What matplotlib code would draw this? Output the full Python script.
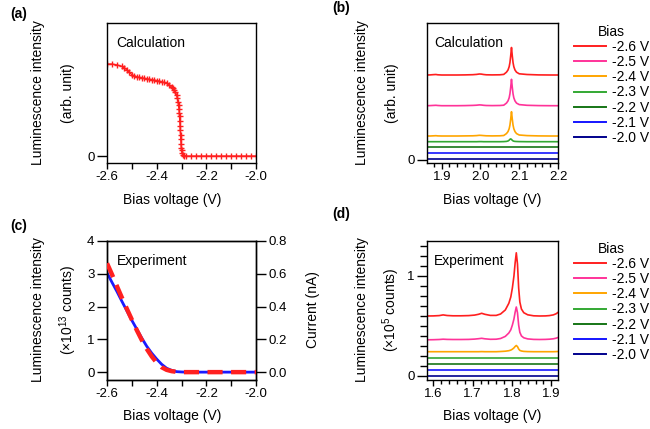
import matplotlib
matplotlib.use('Agg')
import matplotlib.pyplot as plt
from matplotlib.ticker import MultipleLocator, FixedLocator, FormatStrFormatter

plt.rcParams['font.family'] = ['Liberation Sans', 'DejaVu Sans']
plt.rcParams['axes.unicode_minus'] = False
plt.rcParams['mathtext.fontset'] = 'custom'
plt.rcParams['mathtext.rm'] = 'Liberation Sans'
plt.rcParams['mathtext.it'] = 'Liberation Sans:italic'

# ---------------- data ----------------
# (a) calculated luminescence vs bias
bias_a = [-2.60, -2.58, -2.56, -2.54, -2.53, -2.52, -2.51, -2.50, -2.49, -2.48,
          -2.47, -2.46, -2.45, -2.44, -2.43, -2.42, -2.41, -2.40, -2.39, -2.38,
          -2.37, -2.36, -2.35, -2.34, -2.335, -2.33, -2.325, -2.32, -2.317, -2.314,
          -2.312, -2.310, -2.309, -2.308, -2.307, -2.306, -2.305, -2.304, -2.303, -2.302,
          -2.301, -2.300, -2.298, -2.295, -2.29, -2.28, -2.26, -2.24, -2.22, -2.20,
          -2.18, -2.16, -2.14, -2.12, -2.10, -2.08, -2.06, -2.04, -2.02, -2.00]
lum_a = [1.000, 1.000, 0.990, 0.975, 0.960, 0.935, 0.910, 0.885, 0.870, 0.860,
         0.855, 0.850, 0.845, 0.840, 0.835, 0.830, 0.825, 0.820, 0.815, 0.805,
         0.800, 0.790, 0.775, 0.750, 0.735, 0.715, 0.695, 0.665, 0.630, 0.590,
         0.550, 0.510, 0.470, 0.430, 0.380, 0.330, 0.280, 0.230, 0.180, 0.130,
         0.090, 0.060, 0.030, 0.010, 0.000, 0.000, 0.000, 0.000, 0.000, 0.000,
         0.000, 0.000, 0.000, 0.000, 0.000, 0.000, 0.000, 0.000, 0.000, 0.000]

# (b) calculated spectra
bias_labels = ['-2.6 V', '-2.5 V', '-2.4 V', '-2.3 V', '-2.2 V', '-2.1 V', '-2.0 V']
colors = ['#ff1f1f', '#ff3399', '#ffa500', '#33a833', '#167516', '#1515ff', '#00008c']

energy_b = [1.862, 1.870, 1.880, 1.885, 1.890, 1.900, 1.920, 1.940, 1.960, 1.980,
            1.990, 1.997, 2.002, 2.008, 2.015, 2.030, 2.050, 2.060, 2.067, 2.071,
            2.074, 2.076, 2.078, 2.080, 2.082, 2.084, 2.086, 2.089, 2.093, 2.100,
            2.120, 2.150, 2.180, 2.200]
spec_b_26 = [0.850, 0.851, 0.854, 0.855, 0.852, 0.850, 0.850, 0.850, 0.851, 0.853,
             0.856, 0.860, 0.859, 0.855, 0.852, 0.851, 0.852, 0.856, 0.878, 0.900,
             0.933, 0.974, 1.043, 1.125, 1.043, 0.974, 0.933, 0.900, 0.878, 0.862,
             0.855, 0.851, 0.850, 0.850]
spec_b_25 = [0.543, 0.544, 0.546, 0.547, 0.545, 0.543, 0.543, 0.543, 0.544, 0.546,
             0.548, 0.551, 0.550, 0.547, 0.545, 0.544, 0.545, 0.548, 0.569, 0.591,
             0.622, 0.662, 0.728, 0.807, 0.728, 0.662, 0.622, 0.591, 0.569, 0.554,
             0.547, 0.544, 0.543, 0.543]
spec_b_24 = [0.240, 0.240, 0.242, 0.243, 0.241, 0.240, 0.240, 0.240, 0.241, 0.242,
             0.244, 0.247, 0.246, 0.244, 0.242, 0.241, 0.242, 0.245, 0.264, 0.284,
             0.313, 0.349, 0.410, 0.483, 0.410, 0.349, 0.313, 0.284, 0.264, 0.250,
             0.244, 0.241, 0.240, 0.240]
spec_b_23 = [0.183, 0.183, 0.183, 0.183, 0.183, 0.183, 0.183, 0.183, 0.183, 0.183,
             0.183, 0.184, 0.184, 0.183, 0.183, 0.183, 0.183, 0.184, 0.186, 0.190,
             0.198, 0.207, 0.211, 0.206, 0.197, 0.191, 0.188, 0.186, 0.185, 0.184,
             0.183, 0.183, 0.183, 0.183]
level_b_22 = [0.127, 0.127]
level_b_21 = [0.067, 0.067]
level_b_20 = [0.010, 0.010]
ends_b = [1.862, 2.200]

# (c) experiment: luminescence (x1e13 counts) and current (nA) vs bias
bias_c = [-2.60, -2.58, -2.56, -2.54, -2.52, -2.50, -2.48, -2.46, -2.44, -2.42,
          -2.40, -2.38, -2.36, -2.34, -2.32, -2.30, -2.28, -2.25, -2.20, -2.15,
          -2.10, -2.05, -2.00]
lum_c = [3.32, 2.98, 2.62, 2.27, 1.93, 1.60, 1.28, 0.98, 0.71, 0.48,
         0.29, 0.15, 0.07, 0.03, 0.01, 0.00, 0.00, 0.00, 0.00, 0.00,
         0.00, 0.00, 0.00]
current_c = [0.606, 0.548, 0.492, 0.432, 0.374, 0.316, 0.262, 0.208, 0.158, 0.116,
             0.080, 0.048, 0.024, 0.011, 0.003, 0.001, 0.000, 0.000, 0.000, 0.000,
             0.000, 0.000, 0.000]

# (d) experimental spectra (x1e5 counts)
energy_d = [1.584, 1.600, 1.615, 1.625, 1.635, 1.650, 1.670, 1.690, 1.705, 1.715,
            1.723, 1.731, 1.745, 1.760, 1.771, 1.783, 1.792, 1.797, 1.801, 1.805,
            1.808, 1.811, 1.814, 1.817, 1.820, 1.824, 1.830, 1.840, 1.855, 1.870,
            1.885, 1.895, 1.905, 1.912, 1.917]
spec_d_26 = [0.600, 0.601, 0.604, 0.611, 0.605, 0.602, 0.602, 0.604, 0.609, 0.617,
             0.627, 0.617, 0.606, 0.606, 0.620, 0.660, 0.727, 0.790, 0.880, 1.000,
             1.130, 1.232, 1.120, 0.880, 0.740, 0.670, 0.633, 0.612, 0.602, 0.600,
             0.601, 0.604, 0.611, 0.622, 0.636]
spec_d_25 = [0.362, 0.363, 0.365, 0.368, 0.366, 0.365, 0.365, 0.366, 0.369, 0.373,
             0.377, 0.372, 0.367, 0.368, 0.375, 0.396, 0.430, 0.462, 0.509, 0.570,
             0.637, 0.690, 0.633, 0.509, 0.437, 0.401, 0.382, 0.371, 0.366, 0.365,
             0.366, 0.368, 0.372, 0.378, 0.385]
spec_d_24 = [0.243, 0.243, 0.243, 0.243, 0.243, 0.243, 0.243, 0.243, 0.243, 0.243,
             0.244, 0.243, 0.243, 0.243, 0.245, 0.248, 0.253, 0.259, 0.268, 0.281,
             0.295, 0.305, 0.294, 0.270, 0.256, 0.250, 0.246, 0.244, 0.243, 0.243,
             0.243, 0.243, 0.243, 0.244, 0.245]
level_d_23 = [0.183, 0.183]
level_d_22 = [0.121, 0.121]
level_d_21 = [0.061, 0.061]
level_d_20 = [0.000, 0.000]
ends_d = [1.584, 1.917]

# ---------------- figure ----------------
W, H = 650, 429
fig = plt.figure(figsize=(W / 100, H / 100), dpi=100)


def box(l, t, r, b):
    return [l / W, 1 - b / H, (r - l) / W, (b - t) / H]


def ftext(x, y, s, **kw):
    fig.text(x / W, 1 - y / H, s, **kw)


ax_a = fig.add_axes(box(107, 23, 256, 163))
ax_b = fig.add_axes(box(427, 23, 558, 163))
ax_c = fig.add_axes(box(107, 241, 256, 380))
ax_d = fig.add_axes(box(427, 241, 558, 380))

TICK_FS = 9.5
LAB_FS = 10


def style(ax):
    for s in ax.spines.values():
        s.set_linewidth(1.0)
    ax.tick_params(axis='x', which='both', direction='out', length=4, width=1,
                   labelsize=TICK_FS, pad=2)
    ax.tick_params(axis='y', which='both', direction='out', length=7, width=1,
                   labelsize=TICK_FS, pad=2)


# (a)
ax_a.plot(bias_a, lum_a, color='#ff1f1f', lw=1.0, marker='+', ms=3.8, mew=1.0)
ax_a.set_xlim(-2.6, -2.0)
ax_a.set_ylim(-0.076, 1.446)
ax_a.xaxis.set_major_locator(FixedLocator([-2.6, -2.4, -2.2, -2.0]))
ax_a.xaxis.set_minor_locator(FixedLocator([-2.5, -2.3, -2.1]))
ax_a.xaxis.set_major_formatter(FormatStrFormatter('%.1f'))
ax_a.set_yticks([0])
ax_a.set_yticklabels(['0'])
style(ax_a)
ax_a.text(0.065, 0.86, 'Calculation', transform=ax_a.transAxes, fontsize=LAB_FS,
          va='center', ha='left')

# (b)
lines_b = []
for y, c, lab in [(spec_b_26, colors[0], bias_labels[0]),
                  (spec_b_25, colors[1], bias_labels[1]),
                  (spec_b_24, colors[2], bias_labels[2]),
                  (spec_b_23, colors[3], bias_labels[3])]:
    ln, = ax_b.plot(energy_b, y, color=c, lw=1.2, label=lab)
    lines_b.append(ln)
for y, c, lab in [(level_b_22, colors[4], bias_labels[4]),
                  (level_b_21, colors[5], bias_labels[5]),
                  (level_b_20, colors[6], bias_labels[6])]:
    ln, = ax_b.plot(ends_b, y, color=c, lw=1.2, label=lab)
    lines_b.append(ln)
ax_b.set_xlim(1.862, 2.2)
ax_b.set_ylim(-0.03, 1.37)
ax_b.xaxis.set_major_locator(FixedLocator([1.9, 2.0, 2.1, 2.2]))
ax_b.xaxis.set_minor_locator(MultipleLocator(0.02))
ax_b.xaxis.set_major_formatter(FormatStrFormatter('%.1f'))
ax_b.set_yticks([0])
ax_b.set_yticklabels(['0'])
style(ax_b)
ax_b.tick_params(axis='x', which='minor', length=3)
ax_b.text(0.055, 0.86, 'Calculation', transform=ax_b.transAxes, fontsize=LAB_FS,
          va='center', ha='left')

# (c)
ax_c2 = ax_c.twinx()
ax_c2.plot(bias_c, current_c, color='#1a1aff', lw=2.0, zorder=2)
ax_c.plot(bias_c, lum_c, color='#ff2020', lw=3.2, dashes=(3.4, 1.9), zorder=3)
ax_c.set_zorder(ax_c2.get_zorder() + 1)
ax_c.patch.set_visible(False)
ax_c.set_xlim(-2.6, -2.0)
ax_c.set_ylim(-0.24, 4.0)
ax_c2.set_ylim(-0.048, 0.8)
ax_c.xaxis.set_major_locator(FixedLocator([-2.6, -2.4, -2.2, -2.0]))
ax_c.xaxis.set_minor_locator(FixedLocator([-2.5, -2.3, -2.1]))
ax_c.xaxis.set_major_formatter(FormatStrFormatter('%.1f'))
ax_c.set_yticks([0, 1, 2, 3, 4])
ax_c2.set_yticks([0.0, 0.2, 0.4, 0.6, 0.8])
ax_c2.yaxis.set_major_formatter(FormatStrFormatter('%.1f'))
style(ax_c)
style(ax_c2)
ax_c.text(0.065, 0.855, 'Experiment', transform=ax_c.transAxes, fontsize=LAB_FS,
          va='center', ha='left')

# (d)
lines_d = []
for y, c, lab in [(spec_d_26, colors[0], bias_labels[0]),
                  (spec_d_25, colors[1], bias_labels[1]),
                  (spec_d_24, colors[2], bias_labels[2])]:
    ln, = ax_d.plot(energy_d, y, color=c, lw=1.2, label=lab)
    lines_d.append(ln)
for y, c, lab in [(level_d_23, colors[3], bias_labels[3]),
                  (level_d_22, colors[4], bias_labels[4]),
                  (level_d_21, colors[5], bias_labels[5]),
                  (level_d_20, colors[6], bias_labels[6])]:
    ln, = ax_d.plot(ends_d, y, color=c, lw=1.2, label=lab)
    lines_d.append(ln)
ax_d.set_xlim(1.584, 1.917)
ax_d.set_ylim(-0.04, 1.35)
ax_d.xaxis.set_major_locator(FixedLocator([1.6, 1.7, 1.8, 1.9]))
ax_d.xaxis.set_minor_locator(MultipleLocator(0.02))
ax_d.xaxis.set_major_formatter(FormatStrFormatter('%.1f'))
ax_d.set_yticks([0, 1])
ax_d.yaxis.set_minor_locator(MultipleLocator(0.1))
style(ax_d)
ax_d.tick_params(axis='x', which='minor', length=3)
ax_d.tick_params(axis='y', which='minor', length=5)
ax_d.text(0.055, 0.855, 'Experiment', transform=ax_d.transAxes, fontsize=LAB_FS,
          va='center', ha='left')

# legends
for ax, lines, top in [(ax_b, lines_b, 25), (ax_d, lines_d, 242)]:
    leg = ax.legend(lines, bias_labels, title='Bias', loc='upper left',
                    bbox_to_anchor=(574 / W, 1 - top / H),
                    bbox_transform=fig.transFigure, frameon=False,
                    fontsize=LAB_FS, title_fontsize=LAB_FS, handlelength=2.3,
                    handletextpad=0.45, labelspacing=0.08, borderpad=0,
                    borderaxespad=0)
    for h in leg.get_lines():
        h.set_linewidth(1.4)

# axis labels
ftext(172, 200, 'Bias voltage (V)', fontsize=LAB_FS, ha='center', va='center')
ftext(492, 200, 'Bias voltage (V)', fontsize=LAB_FS, ha='center', va='center')
ftext(172, 416, 'Bias voltage (V)', fontsize=LAB_FS, ha='center', va='center')
ftext(492, 416, 'Bias voltage (V)', fontsize=LAB_FS, ha='center', va='center')

ftext(38, 93, 'Luminescence intensity', fontsize=LAB_FS, rotation=90, ha='center', va='center')
ftext(68, 93, '(arb. unit)', fontsize=LAB_FS, rotation=90, ha='center', va='center')
ftext(362, 93, 'Luminescence intensity', fontsize=LAB_FS, rotation=90, ha='center', va='center')
ftext(392, 93, '(arb. unit)', fontsize=LAB_FS, rotation=90, ha='center', va='center')
ftext(38, 310, 'Luminescence intensity', fontsize=LAB_FS, rotation=90, ha='center', va='center')
ftext(68, 310, '(×10$^{\\mathregular{13}}$ counts)', fontsize=LAB_FS, rotation=90,
      ha='center', va='center')
ftext(313, 310, 'Current (nA)', fontsize=LAB_FS, rotation=90, ha='center', va='center')
ftext(362, 310, 'Luminescence intensity', fontsize=LAB_FS, rotation=90, ha='center', va='center')
ftext(391, 310, '(×10$^{\\mathregular{5}}$ counts)', fontsize=LAB_FS, rotation=90,
      ha='center', va='center')

# panel labels
ftext(10, 14, '(a)', fontsize=LAB_FS, fontweight='bold', ha='left', va='center')
ftext(332, 8, '(b)', fontsize=LAB_FS, fontweight='bold', ha='left', va='center')
ftext(10, 226, '(c)', fontsize=LAB_FS, fontweight='bold', ha='left', va='center')
ftext(332, 214, '(d)', fontsize=LAB_FS, fontweight='bold', ha='left', va='center')

fig.savefig('out.png', dpi=100)
